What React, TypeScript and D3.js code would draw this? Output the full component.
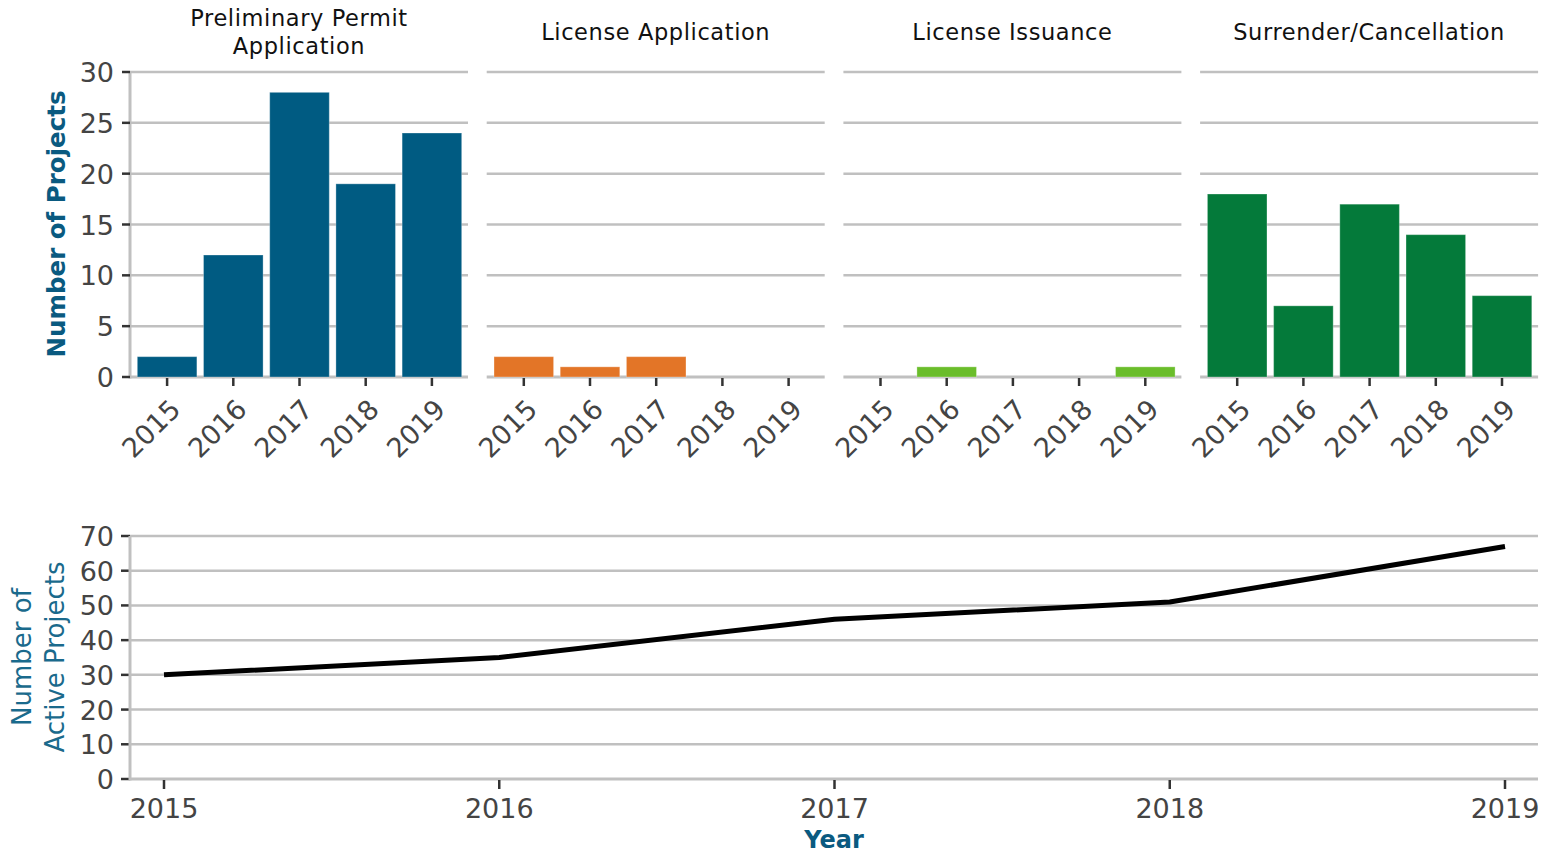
import React from "react";
import * as d3 from "d3";

const years = ["2015", "2016", "2017", "2018", "2019"];
const panelTitles = [["Preliminary Permit", "Application"], ["License Application"], ["License Issuance"], ["Surrender/Cancellation"]];
const preliminary = [2, 12, 28, 19, 24];
const licenseApplication = [2, 1, 2, 0, 0];
const licenseIssuance = [0, 1, 0, 0, 1];
const surrender = [18, 7, 17, 14, 8];
const panelValues = [preliminary, licenseApplication, licenseIssuance, surrender];
const panelColors = ["#005b82", "#e37527", "#6abd2b", "#047a3a"];
const barTicks = [0, 5, 10, 15, 20, 25, 30];

const lineYears = [2015, 2016, 2017, 2018, 2019];
const activeProjects = [30, 35, 46, 51, 67];
const lineTicks = [0, 10, 20, 30, 40, 50, 60, 70];

const FONT = "'DejaVu Sans', 'Liberation Sans', sans-serif";
const GRID = "#c0c0c0";
const TICK = "#333";
const LABEL = "#444";
const BLUE = "#0a5a80";

export default function App() {
  const W = 1547, H = 853;
  const panelW = 338;
  const panelStep = 356.7;
  const panelX0 = 130;
  const topY0 = 377, topY1 = 72;
  const yBar = d3.scaleLinear().domain([0, 30]).range([topY0, topY1]);

  const botTop = 536, botBottom = 779;
  const yLine = d3.scaleLinear().domain([0, 70]).range([botBottom, botTop]);
  const xLine = d3.scaleLinear().domain([2015, 2019]).range([164, 1505]);
  const lineGen = d3
    .line<number>()
    .x((_, i) => xLine(lineYears[i]))
    .y((v) => yLine(v))
    .curve(d3.curveLinear);

  return (
    <svg width={W} height={H} style={{ position: "absolute", left: 0, top: 0, background: "#fff" }} fontFamily={FONT}>
      {panelValues.map((vals, p) => {
        const x0 = panelX0 + p * panelStep;
        const xb = d3.scaleBand<string>().domain(years).range([x0 + 4, x0 + 335]).paddingInner(0.1).paddingOuter(0.05);
        const cx = x0 + panelW / 2;
        return (
          <g key={p}>
            {panelTitles[p].length === 2 ? (
              <text x={cx} textAnchor="middle" fontSize={22.5} letterSpacing={0.6} fill="#111">
                <tspan x={cx} y={26}>{panelTitles[p][0]}</tspan>
                <tspan x={cx} y={54}>{panelTitles[p][1]}</tspan>
              </text>
            ) : (
              <text x={cx} y={40} textAnchor="middle" fontSize={22.5} letterSpacing={0.6} fill="#111">{panelTitles[p][0]}</text>
            )}
            {barTicks.map((t) => (
              <line key={t} x1={x0} x2={x0 + panelW} y1={yBar(t)} y2={yBar(t)} stroke={GRID} strokeWidth={t === 0 ? 3 : 2.5} />
            ))}
            {vals.map((v, i) =>
              v > 0 ? (
                <rect key={i} x={xb(years[i])} y={yBar(v)} width={xb.bandwidth()} height={yBar(0) - yBar(v)} fill={panelColors[p]} stroke="#ffffff" strokeOpacity={0.3} strokeWidth={1} />
              ) : null
            )}
            {years.map((yr) => {
              const tx = (xb(yr) as number) + xb.bandwidth() / 2;
              return (
                <g key={yr}>
                  <line x1={tx} x2={tx} y1={topY0 + 1} y2={topY0 + 9} stroke={TICK} strokeWidth={2.5} />
                  <text transform={`translate(${tx + 15},${411}) rotate(-45)`} textAnchor="end" fontSize={27} fill={LABEL}>{yr}</text>
                </g>
              );
            })}
            {p === 0 && (
              <g>
                <line x1={x0} x2={x0} y1={topY1} y2={topY0 + 1.5} stroke={GRID} strokeWidth={3} />
                {barTicks.map((t) => (
                  <g key={t}>
                    <line x1={x0 - 8} x2={x0} y1={yBar(t)} y2={yBar(t)} stroke={TICK} strokeWidth={2.5} />
                    <text x={x0 - 16} y={yBar(t) + 10} textAnchor="end" fontSize={27} fill={LABEL}>{t}</text>
                  </g>
                ))}
              </g>
            )}
          </g>
        );
      })}
      <text transform={`translate(65,224) rotate(-90)`} textAnchor="middle" fontSize={24.5} fontWeight="bold" fill={BLUE}>Number of Projects</text>

      {lineTicks.map((t) => (
        <g key={t}>
          <line x1={130} x2={1538} y1={yLine(t)} y2={yLine(t)} stroke={GRID} strokeWidth={t === 0 ? 3 : 2.5} />
          <line x1={121} x2={130} y1={yLine(t)} y2={yLine(t)} stroke={TICK} strokeWidth={2.5} />
          <text x={114} y={yLine(t) + 10} textAnchor="end" fontSize={27} fill={LABEL}>{t}</text>
        </g>
      ))}
      <line x1={130} x2={130} y1={botTop} y2={botBottom + 1.5} stroke={GRID} strokeWidth={3} />
      {lineYears.map((yr) => (
        <g key={yr}>
          <line x1={xLine(yr)} x2={xLine(yr)} y1={botBottom + 1} y2={botBottom + 10} stroke={TICK} strokeWidth={2.5} />
          <text x={xLine(yr)} y={818} textAnchor="middle" fontSize={27} fill={LABEL}>{yr}</text>
        </g>
      ))}
      <path d={lineGen(activeProjects) || ""} fill="none" stroke="#000" strokeWidth={5} strokeLinejoin="round" />
      <text transform={`translate(0,657) rotate(-90)`} textAnchor="middle" fontSize={26} fill={"#1a6a8c"}>
        <tspan x={0} y={31}>Number of</tspan>
        <tspan x={0} y={64}>Active Projects</tspan>
      </text>
      <text x={834} y={848} textAnchor="middle" fontSize={24} fontWeight="bold" fill={BLUE}>Year</text>
    </svg>
  );
}
